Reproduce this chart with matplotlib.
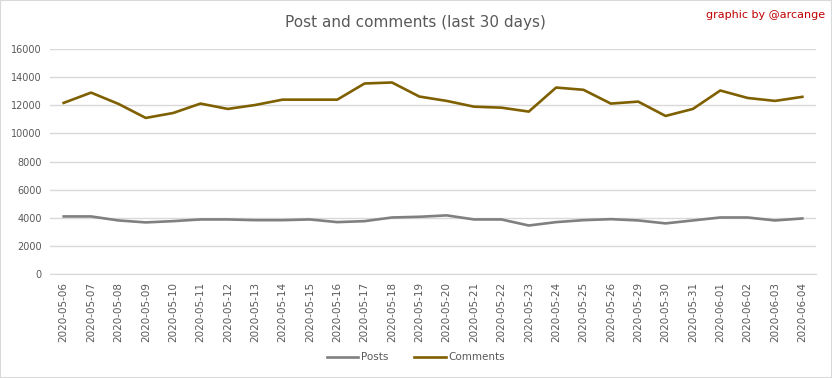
import matplotlib.pyplot as plt
from matplotlib.patches import Rectangle

dates = ["2020-05-06", "2020-05-07", "2020-05-08", "2020-05-09", "2020-05-10",
         "2020-05-11", "2020-05-12", "2020-05-13", "2020-05-14", "2020-05-15",
         "2020-05-16", "2020-05-17", "2020-05-18", "2020-05-19", "2020-05-20",
         "2020-05-21", "2020-05-22", "2020-05-23", "2020-05-24", "2020-05-25",
         "2020-05-26", "2020-05-29", "2020-05-30", "2020-05-31", "2020-06-01",
         "2020-06-02", "2020-06-03", "2020-06-04"]
posts = [4095, 4095, 3810, 3670, 3760, 3880, 3880, 3830, 3830, 3880,
         3690, 3760, 4020, 4070, 4170, 3880, 3880, 3450, 3690, 3830,
         3900, 3810, 3600, 3810, 4020, 4020, 3810, 3950]
comments = [12170, 12900, 12100, 11100, 11450, 12120, 11740, 12020, 12400, 12400,
            12400, 13550, 13620, 12620, 12310, 11900, 11830, 11550, 13260, 13100,
            12120, 12260, 11240, 11740, 13050, 12520, 12310, 12600]
y_ticks = [0, 2000, 4000, 6000, 8000, 10000, 12000, 14000, 16000]

TXT = "#595959"
GRID = "#d9d9d9"

fig = plt.figure(figsize=(8.32, 3.78), dpi=100)
ax = fig.add_axes([0.0601, 0.2751, 0.9207, 0.5952])

x = list(range(len(dates)))
ax.plot(x, posts, color="#808080", lw=1.9, label="Posts")
ax.plot(x, comments, color="#7f6000", lw=1.9, label="Comments")

ax.set_xlim(-0.5, len(dates) - 0.5)
ax.set_ylim(0, 16000)
ax.set_yticks(y_ticks)
ax.set_yticklabels([str(v) for v in y_ticks], fontsize=7, color=TXT)
ax.set_xticks(x)
ax.set_xticklabels(dates, rotation=90, fontsize=7.5, color=TXT)
ax.tick_params(axis="both", length=0, pad=6)
ax.grid(axis="y", color=GRID, lw=1)
ax.set_axisbelow(True)
for s in ["top", "right", "left"]:
    ax.spines[s].set_visible(False)
ax.spines["bottom"].set_color(GRID)

fig.text(0.499, 0.94, "Post and comments (last 30 days)", ha="center", va="center",
         fontsize=11, color=TXT)
fig.text(0.992, 0.96, "graphic by @arcange", ha="right", va="center",
         fontsize=8, color="#c00000")

fig.legend(loc="center", bbox_to_anchor=(0.5, 0.055), ncol=2, frameon=False,
           fontsize=7.5, labelcolor=TXT, handlelength=3, columnspacing=2.5,
           handletextpad=0.3)

fig.patches.append(Rectangle((0, 0), 1, 1, transform=fig.transFigure,
                             fill=False, edgecolor=GRID, lw=1.5))

fig.savefig("out.png", dpi=100)
